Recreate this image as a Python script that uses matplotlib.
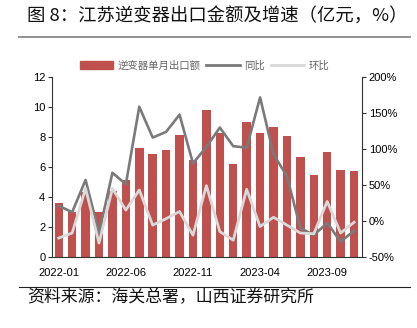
import matplotlib
matplotlib.use('Agg')
import numpy as np
import matplotlib.pyplot as plt
from matplotlib.lines import Line2D

plt.rcParams['font.family'] = ['Liberation Sans', 'Noto Sans CJK SC', 'DejaVu Sans']

months = ['2022-01', '2022-02', '2022-03', '2022-04', '2022-05', '2022-06',
          '2022-07', '2022-08', '2022-09', '2022-10', '2022-11', '2022-12',
          '2023-01', '2023-02', '2023-03', '2023-04', '2023-05', '2023-06',
          '2023-07', '2023-08', '2023-09', '2023-10', '2023-11']
export_amt = [3.6, 3.0, 4.3, 3.0, 4.4, 5.1, 7.3, 6.9, 7.15, 8.15, 6.5, 9.8,
              8.3, 6.2, 9.0, 8.3, 8.65, 8.1, 6.7, 5.45, 7.0, 5.8, 5.7]
yoy = [21, 12, 57, -17, 67, 51, 159, 116, 124, 148, 80, 103,
       130, 104, 102, 172, 93, 62, -10, -20, -3, -29, -14]
mom = [-24, -17, 45, -31, 45, 15, 43, -6, 3, 13, -20, 49,
       -15, -27, 44, -8, 5, -6, -17, -18, 27, -17, -2]
tick_idx = [0, 5, 10, 15, 20]

bar_color = '#C0504D'
yoy_color = '#7A7A7A'
mom_color = '#D9D9D9'

fig = plt.figure(figsize=(4.17, 3.28), dpi=100)
ax = fig.add_axes([0.1254, 0.2174, 0.742, 0.5469])
x = np.arange(len(months))
ax.bar(x, export_amt, width=0.63, color=bar_color, zorder=2)
ax.set_xlim(-0.48, len(months) - 0.43)
ax.set_ylim(0, 12)
ax.set_yticks(range(0, 13, 2))
ax.set_xticks(tick_idx)
ax.set_xticklabels([months[i] for i in tick_idx])
ax.tick_params(axis='both', labelsize=8, length=3, width=0.8, color='#333333', pad=2)
ax.tick_params(axis='x', length=0, pad=8)
for s in ['top', 'right']:
    ax.spines[s].set_visible(False)
ax.spines['left'].set_color('#333333')
ax.spines['bottom'].set_color('#333333')

ax2 = ax.twinx()
ax2.plot(x, yoy, color=yoy_color, lw=1.9, zorder=3)
ax2.plot(x, mom, color=mom_color, lw=2.0, zorder=3)
ax2.set_ylim(-50, 200)
ax2.set_yticks(range(-50, 201, 50))
ax2.set_yticklabels([f'{v}%' for v in range(-50, 201, 50)])
ax2.tick_params(axis='y', labelsize=8, length=3, width=0.8, color='#333333', pad=2)
for s in ['top', 'left', 'bottom']:
    ax2.spines[s].set_visible(False)
ax2.spines['right'].set_color('#333333')

handles = [plt.Rectangle((0, 0), 1, 1, color=bar_color),
           Line2D([], [], color=yoy_color, lw=2),
           Line2D([], [], color=mom_color, lw=2)]
fig.legend(handles, ['逆变器单月出口额', '同比', '环比'], loc='center',
           bbox_to_anchor=(0.49, 0.799), ncol=3, frameon=False,
           prop={'family': ['Noto Sans CJK SC'], 'size': 7.5},
           labelcolor='#666666', handlelength=3.2, handleheight=0.8,
           columnspacing=0.6, handletextpad=0.4)

fig.text(0.065, 0.951, '图 8：江苏逆变器出口金额及增速（亿元，%）', fontsize=13.2,
         family=['Noto Sans CJK SC', 'DejaVu Sans'], va='center', color='#111111')
fig.add_artist(Line2D([0.045, 0.983], [0.888, 0.888], color='#888888', lw=1.3))
fig.add_artist(Line2D([0.045, 0.983], [0.124, 0.124], color='#222222', lw=0.8))
fig.text(0.065, 0.0945, '资料来源：海关总署，山西证券研究所', fontsize=12.2,
         family=['Noto Sans CJK SC', 'DejaVu Sans'], va='center', color='#111111')

fig.savefig('out.png', dpi=100)
